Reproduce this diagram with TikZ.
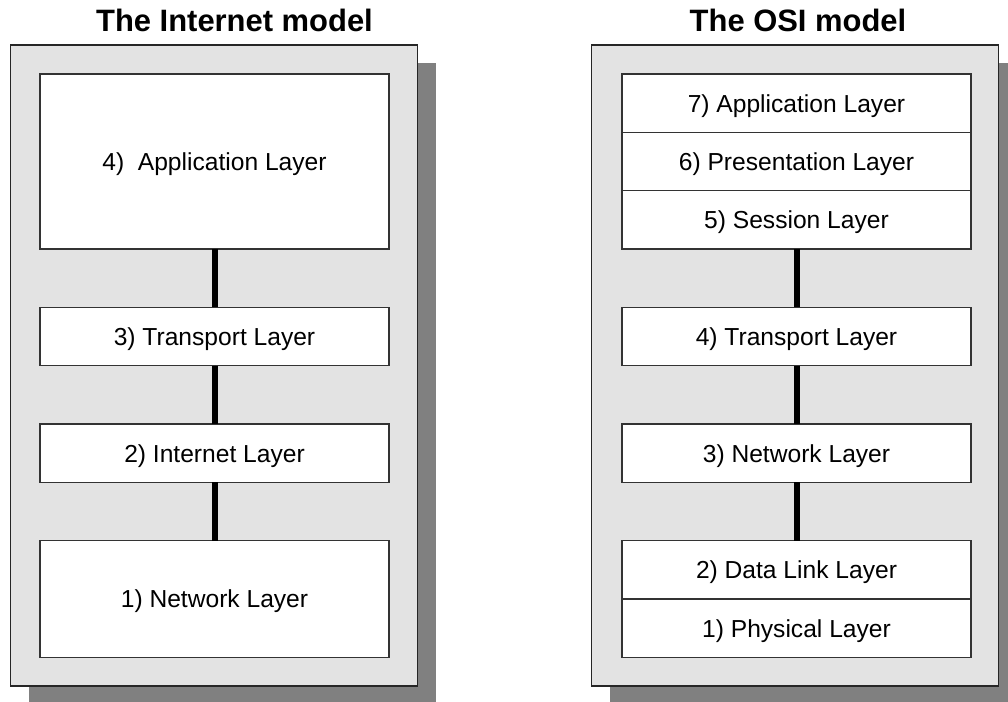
\documentclass[tikz,border=0pt]{standalone}
\usepackage{fontspec}
\setmainfont{Liberation Sans}
\usetikzlibrary{positioning,shadows}

\begin{document}
\begin{tikzpicture}[
    x=0.75pt, y=-0.75pt,
    font=\fontsize{18.45}{22}\selectfont,
    node distance=43.75pt,
    panel/.style={
        draw=black!85,
        fill=black!11,
        line width=0.8pt,
        minimum width=305.25pt,
        minimum height=480.75pt,
        inner sep=0pt,
        drop shadow={shadow xshift=13.5pt, shadow yshift=-13.5pt,
            opacity=1, fill=black!50}
    },
    layer/.style={
        draw=black!80,
        fill=white,
        line width=1pt,
        minimum width=261.75pt,
        minimum height=43.75pt,
        inner sep=0pt,
        outer sep=0pt,
        text depth=0pt
    },
    title/.style={
        font=\fontsize{23.2}{28}\selectfont\bfseries,
        anchor=base
    },
    link/.style={
        line width=4.5pt
    }
]
\useasboundingbox (0,0) rectangle (1008,702);

\node[title] (inettitle) at (234.5,31.7) {The Internet model};
\node[title] (osititle) at (798,31.7) {The OSI model};

\node[panel] (inetpanel) at (214,365.5) {};
\node[panel] (osipanel) at (795,365.5) {};

\node[layer, anchor=north, minimum height=131.25pt] (inetapp) at (214.5,74) {4)~ Application Layer};
\node[layer, below=of inetapp] (inettrans) {3) Transport Layer};
\node[layer, below=of inettrans] (inetnet) {2) Internet Layer};
\node[layer, below=of inetnet, minimum height=87.5pt] (inetlink) {1) Network Layer};

\node[layer, anchor=north] (osiapp) at (796.5,74) {7) Application Layer};
\node[layer, below=0pt of osiapp] (osipres) {6) Presentation Layer};
\node[layer, below=0pt of osipres] (osisess) {5) Session Layer};
\node[layer, below=of osisess] (ositrans) {4) Transport Layer};
\node[layer, below=of ositrans] (osinet) {3) Network Layer};
\node[layer, below=of osinet] (osidata) {2) Data Link Layer};
\node[layer, below=0pt of osidata] (osiphys) {1) Physical Layer};

\draw[link] (inetapp) -- (inettrans);
\draw[link] (inettrans) -- (inetnet);
\draw[link] (inetnet) -- (inetlink);
\draw[link] (osisess) -- (ositrans);
\draw[link] (ositrans) -- (osinet);
\draw[link] (osinet) -- (osidata);

\end{tikzpicture}
\end{document}
